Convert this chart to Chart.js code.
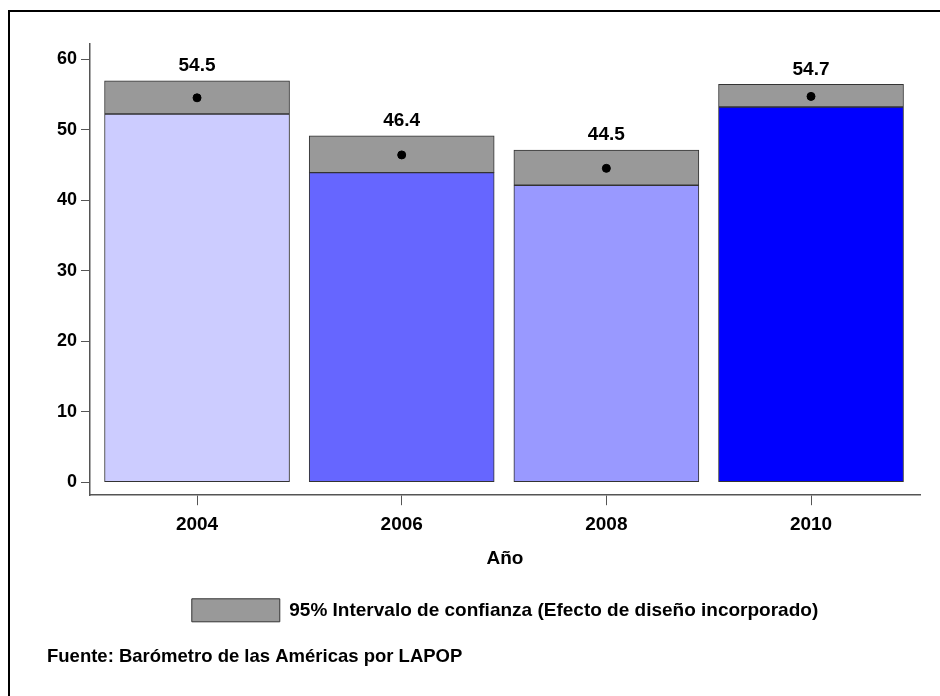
<!DOCTYPE html>
<html>
<head>
<meta charset="utf-8">
<script src="https://cdn.jsdelivr.net/npm/chart.js@4"></script>
<style>
  html, body { margin: 0; padding: 0; background: #fff; }
  #wrap { width: 940px; height: 696px; }
</style>
</head>
<body>
<div id="wrap"><canvas id="chart" width="940" height="696"></canvas></div>
<script>
// data
const years = [2004, 2006, 2008, 2010];
const means = [54.5, 46.4, 44.5, 54.7];
const ciLow = [52.2, 43.9, 42.1, 53.2];
const ciHigh = [56.9, 49.1, 47.1, 56.4];
const barColors = ["#CCCCFF", "#6666FF", "#9999FF", "#0000FF"];
const yTicks = [0, 10, 20, 30, 40, 50, 60];

const FONT = "'Liberation Sans', Arial, sans-serif";

const framePlugin = {
  id: "frame",
  beforeDraw(chart) {
    const c = chart.ctx;
    c.save();
    c.fillStyle = "#fff";
    c.fillRect(0, 0, chart.width, chart.height);
    c.strokeStyle = "#000";
    c.lineWidth = 2;
    c.beginPath();
    c.moveTo(9, chart.height);
    c.lineTo(9, 11);
    c.lineTo(chart.width, 11);
    c.stroke();
    c.restore();
  }
};

const labelPlugin = {
  id: "meanLabels",
  afterDatasetsDraw(chart) {
    const c = chart.ctx;
    const ciMeta = chart.getDatasetMeta(1);
    c.save();
    c.font = "bold 19px " + FONT;
    c.fillStyle = "#000";
    c.textAlign = "center";
    c.textBaseline = "middle";
    ciMeta.data.forEach((bar, i) => {
      c.fillText(means[i].toFixed(1), bar.x, bar.y - 15);
    });
    c.restore();
  }
};

new Chart(document.getElementById("chart"), {
  data: {
    datasets: [
      {
        type: "bar",
        label: "Media",
        data: years.map((y, i) => ({ x: y, y: [0, ciLow[i]] })),
        backgroundColor: barColors,
        borderColor: "#333",
        borderWidth: 1,
        borderSkipped: false,
        barThickness: 185,
        grouped: false,
        order: 2
      },
      {
        type: "bar",
        label: "95% Intervalo de confianza (Efecto de diseño incorporado)",
        data: years.map((y, i) => ({ x: y, y: [ciLow[i], ciHigh[i]] })),
        backgroundColor: "#999999",
        borderColor: "#333",
        borderWidth: 1,
        borderSkipped: false,
        barThickness: 185,
        grouped: false,
        order: 1
      },
      {
        type: "line",
        label: "punto",
        data: years.map((y, i) => ({ x: y, y: means[i] })),
        showLine: false,
        pointRadius: 4,
        pointBackgroundColor: "#000",
        pointBorderColor: "#000",
        order: 0
      }
    ]
  },
  options: {
    responsive: false,
    animation: false,
    layout: { padding: { left: 47, top: 44, right: 20, bottom: 28 } },
    scales: {
      x: {
        type: "linear",
        offset: false,
        min: 2002.954,
        max: 2011.065,
        afterBuildTicks: s => { s.ticks = years.map(v => ({ value: v })); },
        ticks: {
          color: "#000",
          font: { family: FONT, size: 19, weight: "bold" },
          padding: 8,
          callback: v => String(v)
        },
        grid: { offset: false, drawOnChartArea: false, drawTicks: true, tickLength: 10, color: "#555" },
        border: { display: true, color: "#555", width: 1.5 },
        title: {
          display: true,
          text: "Año",
          color: "#000",
          font: { family: FONT, size: 19, weight: "bold" },
          padding: { top: 3, bottom: 19 }
        }
      },
      y: {
        min: -1.85,
        max: 62.13,
        afterBuildTicks: s => { s.ticks = yTicks.map(v => ({ value: v })); },
        afterFit: s => { s.width = 43; },
        ticks: {
          color: "#000",
          font: { family: FONT, size: 18, weight: "bold" },
          padding: 4
        },
        grid: { drawOnChartArea: false, drawTicks: true, tickLength: 9, color: "#555" },
        border: { display: true, color: "#555", width: 1.5 }
      }
    },
    plugins: {
      legend: {
        position: "bottom",
        fullSize: false,
        labels: {
          filter: item => item.datasetIndex === 1,
          boxWidth: 88,
          boxHeight: 23,
          color: "#000",
          font: { family: FONT, size: 19, weight: "bold" }
        }
      },
      subtitle: {
        display: true,
        position: "bottom",
        align: "start",
        text: "Fuente: Barómetro de las Américas por LAPOP",
        color: "#000",
        font: { family: FONT, size: 18.5, weight: "bold" },
        padding: { top: 14, bottom: 0 }
      },
      tooltip: { enabled: false }
    }
  },
  plugins: [framePlugin, labelPlugin]
});
</script>
</body>
</html>
